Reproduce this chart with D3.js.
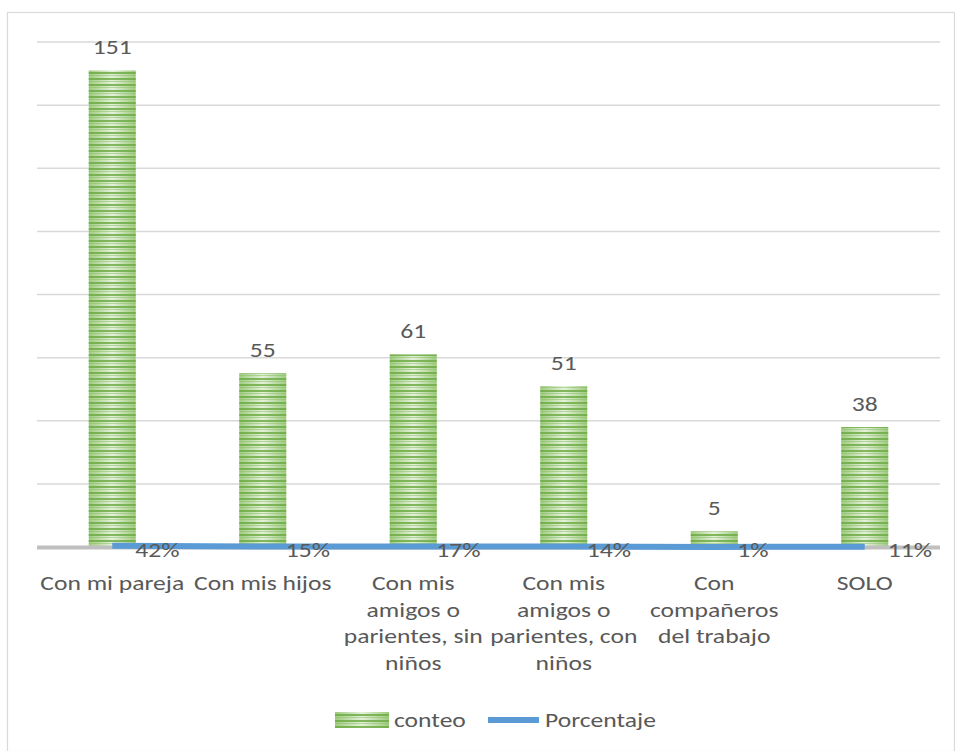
<!DOCTYPE html>
<html>
<head>
<meta charset="utf-8">
<script src="https://cdn.jsdelivr.net/npm/d3@7"></script>
<style>
  html, body { margin: 0; padding: 0; background: #fff; }
  svg { display: block; }
  text { font-family: Carlito, Lato, "Open Sans", sans-serif; fill: #595959; }
</style>
</head>
<body>
<svg id="chart" width="955" height="751"></svg>
<script>
const categories = [
  "Con mi pareja",
  "Con mis hijos",
  "Con mis\namigos o\nparientes, sin\nniños",
  "Con mis\namigos o\nparientes, con\nniños",
  "Con\ncompañeros\ndel trabajo",
  "SOLO"
];
const conteo = [151, 55, 61, 51, 5, 38];
const porcentaje = [0.42, 0.15, 0.17, 0.14, 0.01, 0.11];
const porcentajeLabels = ["42%", "15%", "17%", "14%", "1%", "11%"];
const yTicks = [0, 20, 40, 60, 80, 100, 120, 140, 160];
const seriesNames = ["conteo", "Porcentaje"];

const svg = d3.select("#chart");
const W = 955, H = 751;
const plot = { left: 37, right: 940, top: 42, bottom: 547 };
const FS = 21, SX = 1.22;
const tf = (x, y) => `translate(${x},${y}) scale(${SX},1)`;

// frame
svg.append("rect").attr("x", 7.5).attr("y", 12.5).attr("width", W - 8).attr("height", H - 12)
  .attr("fill", "#fff").attr("stroke", "#d9d9d9").attr("stroke-width", 1.2);

const defs = svg.append("defs");
const grad = defs.append("linearGradient").attr("id", "barGrad")
  .attr("x1", "0").attr("x2", "1").attr("y1", "0").attr("y2", "0");
grad.append("stop").attr("offset", "0%").attr("stop-color", "#9fcb80");
grad.append("stop").attr("offset", "50%").attr("stop-color", "#e4f1da");
grad.append("stop").attr("offset", "100%").attr("stop-color", "#9fcb80");

const pat = defs.append("pattern").attr("id", "stripes")
  .attr("patternUnits", "userSpaceOnUse").attr("width", 10).attr("height", 6);
pat.append("rect").attr("x", 0).attr("y", 0).attr("width", 10).attr("height", 2)
  .attr("fill", "#6aa940").attr("opacity", 0.8);
pat.append("rect").attr("x", 0).attr("y", 3).attr("width", 10).attr("height", 1)
  .attr("fill", "#86bd62").attr("opacity", 0.5);

const x = d3.scaleBand().domain(categories).range([plot.left, plot.right]).paddingInner(0).paddingOuter(0);
const y = d3.scaleLinear().domain([0, 160]).range([plot.bottom, plot.top]);
const barW = 47;

// gridlines
svg.append("g").selectAll("line").data(yTicks.filter(d => d > 0)).join("line")
  .attr("x1", plot.left).attr("x2", plot.right)
  .attr("y1", d => y(d)).attr("y2", d => y(d))
  .attr("stroke", "#d9d9d9").attr("stroke-width", 1.5);

// bars
const cx = c => x(c) + x.bandwidth() / 2;
const bars = svg.append("g");
bars.selectAll("rect.base").data(categories).join("rect").attr("class", "base")
  .attr("x", c => cx(c) - barW / 2).attr("width", barW)
  .attr("y", (c, i) => y(conteo[i])).attr("height", (c, i) => y(0) - y(conteo[i]))
  .attr("fill", "url(#barGrad)");
bars.selectAll("rect.str").data(categories).join("rect").attr("class", "str")
  .attr("x", c => cx(c) - barW / 2).attr("width", barW)
  .attr("y", (c, i) => y(conteo[i])).attr("height", (c, i) => y(0) - y(conteo[i]))
  .attr("fill", "url(#stripes)");

// baseline axis
svg.append("line").attr("x1", plot.left).attr("x2", plot.right)
  .attr("y1", y(0) + 0.5).attr("y2", y(0) + 0.5)
  .attr("stroke", "#bfbfbf").attr("stroke-width", 4);

// value labels
svg.append("g").selectAll("text").data(categories).join("text")
  .attr("transform", (c, i) => tf(cx(c), y(conteo[i]) - 16))
  .attr("text-anchor", "middle").attr("font-size", FS)
  .text((c, i) => conteo[i]);

// percentage line
const line = d3.line().x((d, i) => cx(categories[i])).y(d => y(d));
svg.append("path").datum(porcentaje).attr("d", line)
  .attr("fill", "none").attr("stroke", "#5b9bd5").attr("stroke-width", 6);

svg.append("g").selectAll("text").data(categories).join("text")
  .attr("transform", c => tf(cx(c) + 23, 557))
  .attr("font-size", FS)
  .text((c, i) => porcentajeLabels[i]);

// category labels
const cat = svg.append("g").selectAll("text").data(categories).join("text")
  .attr("transform", c => tf(cx(c), 590))
  .attr("text-anchor", "middle").attr("font-size", FS);
cat.each(function (c) {
  const t = d3.select(this);
  c.split("\n").forEach((ln, k) => {
    t.append("tspan").attr("x", 0).attr("y", k * 26.7).text(ln);
  });
});

// legend
const lg = svg.append("g");
lg.append("rect").attr("x", 335).attr("y", 712).attr("width", 54).attr("height", 16).attr("fill", "url(#barGrad)");
lg.append("rect").attr("x", 335).attr("y", 712).attr("width", 54).attr("height", 16).attr("fill", "url(#stripes)");
lg.append("text").attr("transform", tf(394, 727)).attr("font-size", FS).text(seriesNames[0]);
lg.append("line").attr("x1", 488).attr("x2", 539).attr("y1", 720).attr("y2", 720)
  .attr("stroke", "#5b9bd5").attr("stroke-width", 6);
lg.append("text").attr("transform", tf(545, 727)).attr("font-size", FS).text(seriesNames[1]);
</script>
</body>
</html>
